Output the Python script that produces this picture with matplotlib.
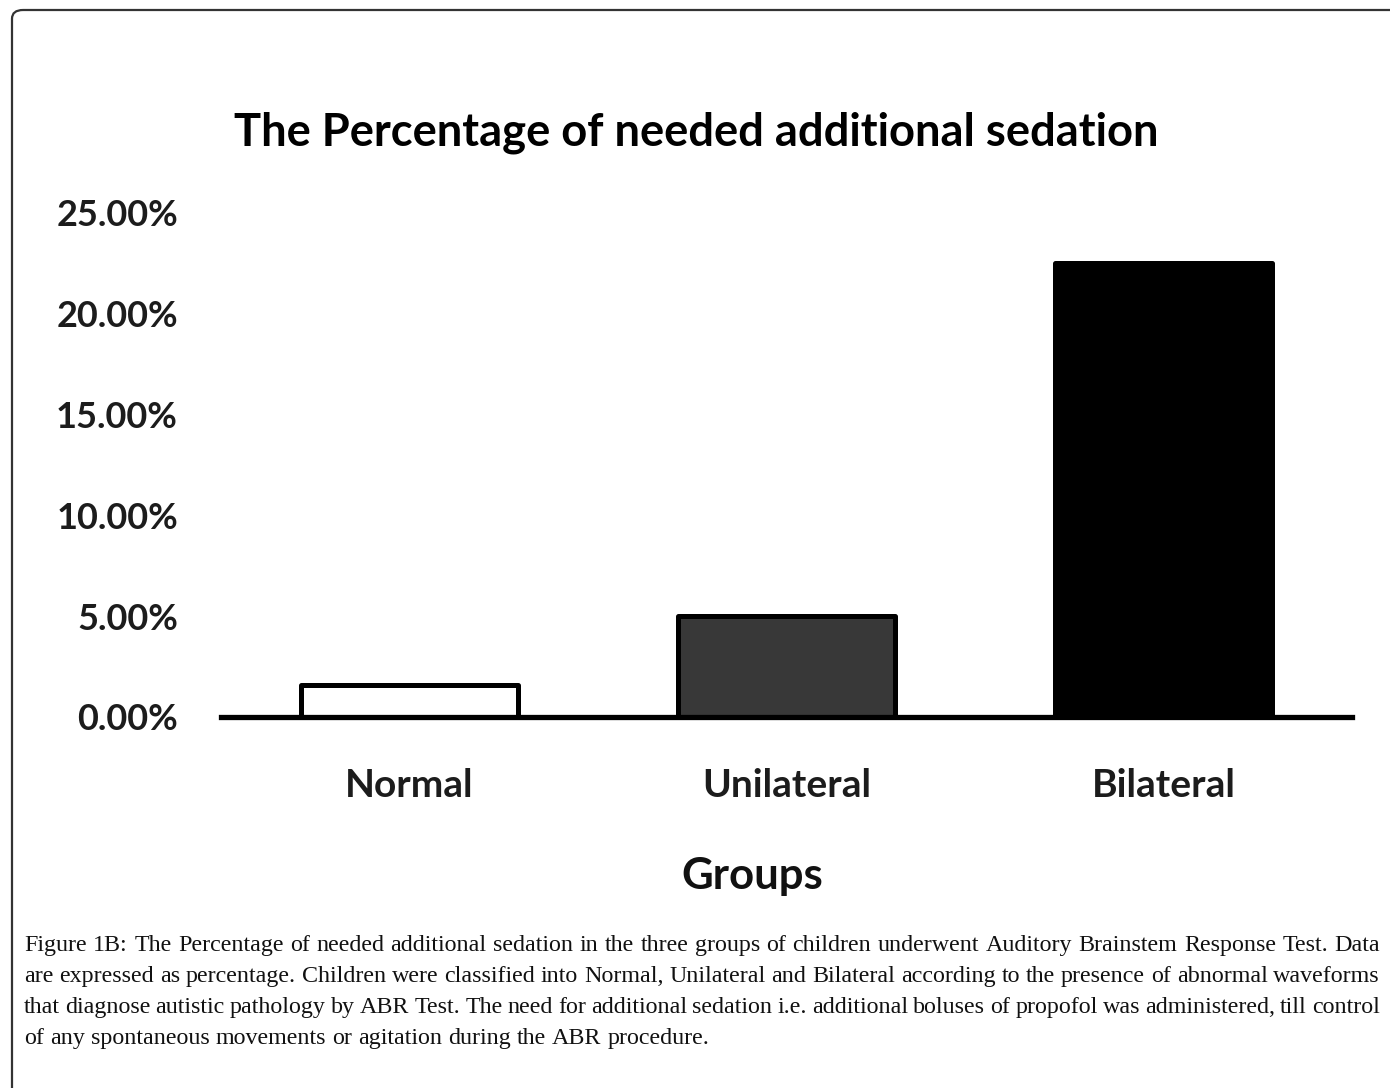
import matplotlib
matplotlib.use("Agg")
import matplotlib.pyplot as plt
from matplotlib.patches import FancyBboxPatch

# ---- data ----
groups = ["Normal", "Unilateral", "Bilateral"]
pct_sedation = [1.6, 5.0, 22.5]
ytick_vals = [0, 5, 10, 15, 20, 25]
ytick_labels = ["0.00%", "5.00%", "10.00%", "15.00%", "20.00%", "25.00%"]
bar_fill = ["white", "#383838", "black"]

title = "The Percentage of needed additional sedation"
xlabel = "Groups"
caption_lines = [
    "Figure 1B: The Percentage of needed additional sedation in the three groups of children underwent Auditory Brainstem Response Test. Data",
    "are expressed as percentage. Children were classified into Normal, Unilateral and Bilateral according to the presence of abnormal waveforms",
    "that diagnose autistic pathology by ABR Test. The need for additional sedation i.e. additional boluses of propofol was administered, till control",
    "of any spontaneous movements or agitation during the ABR procedure.",
]

W, H = 1390, 1088
DPI = 100
fig = plt.figure(figsize=(W / DPI, H / DPI), dpi=DPI)
fig.patch.set_facecolor("white")

CHART_FONT = "Lato"
CAPTION_FONT = "Liberation Serif"


def fx(px):
    return px / W


def fy(py_top):
    return 1 - py_top / H


# rounded panel border (runs off the right and bottom edges)
frame = FancyBboxPatch((fx(12), fy(1200)), fx(1500), 1200 / H - 10 / H,
                       boxstyle="round,pad=0,rounding_size=0.008",
                       transform=fig.transFigure, fill=False,
                       edgecolor="#333333", linewidth=1.6, zorder=0)
fig.patches.append(frame)

# ---- bar chart ----
ax = fig.add_axes([fx(221), fy(717), fx(1352 - 221), (717 - 213) / H])
x = range(len(groups))
ax.bar(x, pct_sedation, width=0.573, color=bar_fill, edgecolor="black",
       linewidth=3.6, joinstyle="round", zorder=3)
ax.set_xlim(-0.5, 2.5)
ax.set_ylim(0, 25)
ax.set_yticks(ytick_vals)
ax.set_yticklabels(ytick_labels, fontfamily=CHART_FONT, fontweight="bold",
                   fontsize=26, color="#1c1c1c")
ax.set_xticks(list(x))
ax.set_xticklabels(groups, fontfamily=CHART_FONT, fontweight="bold",
                   fontsize=28, color="#1c1c1c")
ax.tick_params(axis="y", length=0, pad=31)
ax.tick_params(axis="x", length=0, pad=37)
for side in ["left", "right", "top"]:
    ax.spines[side].set_visible(False)
ax.spines["bottom"].set_linewidth(3.8)
ax.spines["bottom"].set_color("black")
ax.spines["bottom"].set_zorder(4)
ax.set_facecolor("none")

fig.text(fx(696), fy(133), title, ha="center", va="center",
         fontfamily=CHART_FONT, fontweight="bold", fontsize=32.7, color="black")
fig.text(fx(752), fy(876), xlabel, ha="center", va="center",
         fontfamily=CHART_FONT, fontweight="bold", fontsize=31.5, color="#111111")

# ---- justified caption ----
renderer = fig.canvas.get_renderer()
cap_left, cap_right = 24, 1380
line_base = [951, 982, 1013, 1044]
cap_size = 17.3
for i, (line, ly) in enumerate(zip(caption_lines, line_base)):
    words = line.split(" ")
    texts = [fig.text(0, fy(ly), w, ha="left", va="baseline",
                      fontfamily=CAPTION_FONT, fontsize=cap_size, color="#111111")
             for w in words]
    widths = [t.get_window_extent(renderer).width for t in texts]
    last = i == len(caption_lines) - 1
    if last or len(words) == 1:
        space = cap_size * 0.25 * DPI / 72
    else:
        space = (cap_right - cap_left - sum(widths)) / (len(words) - 1)
    xpos = cap_left
    for t, w in zip(texts, widths):
        t.set_x(fx(xpos))
        xpos += w + space

fig.savefig("out.png", dpi=DPI, facecolor="white")
